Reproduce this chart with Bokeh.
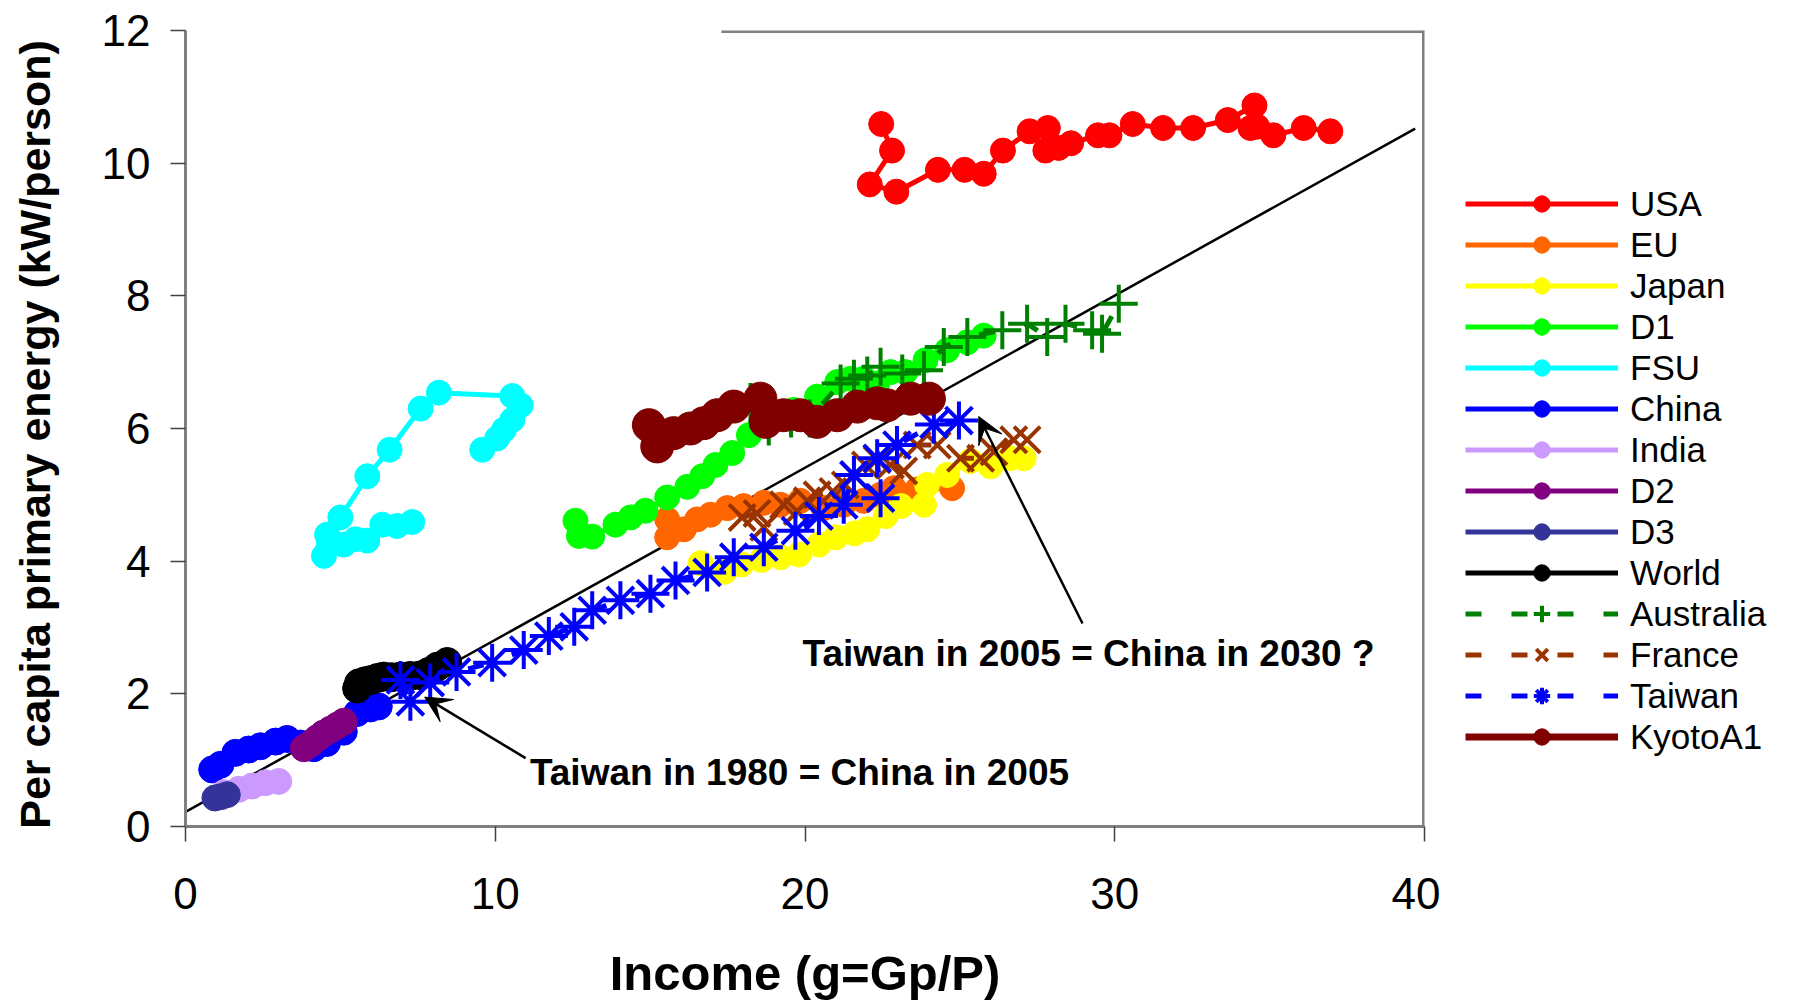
from bokeh.plotting import figure
from bokeh.layouts import row
from bokeh.models import Range1d, Legend, LegendItem, Label, Arrow, VeeHead, FixedTicker
from bokeh.embed import file_html
from bokeh.resources import INLINE

nan = float("nan")

# ---- data: income (g = Gp/P) vs per-capita primary energy (kW/person) ----
usa_x = [22.46, 22.81, 22.09, 22.95, 24.29, 25.15, 25.77, 26.39, 27.25, 27.84, 27.76, 28.19, 28.59,
         29.46, 29.83, 30.58, 31.56, 32.53, 33.65, 34.51, 34.38, 34.60, 35.12, 36.10, 36.96]
usa_y = [10.59, 10.19, 9.68, 9.57, 9.90, 9.90, 9.84, 10.19, 10.48, 10.53, 10.19, 10.23, 10.30,
         10.42, 10.42, 10.59, 10.53, 10.53, 10.65, 10.87, 10.53, 10.55, 10.42, 10.53, 10.48]

eu_x = [15.55, 15.55, 16.09, 16.52, 16.95, 17.49, 18.02, 18.67, 19.21, 19.85, 20.60, 21.25, 21.90,
        22.44, 22.87, 23.62, 24.75]
eu_y = [4.63, 4.36, 4.48, 4.63, 4.70, 4.80, 4.83, 4.88, 4.85, 4.91, 4.80, 4.85, 4.91,
        5.00, 5.10, 5.08, 5.10]

japan_x = [16.63, 17.40, 17.95, 18.60, 19.21, 19.80, 20.45, 21.00, 21.60, 22.01, 22.60, 23.10,
           23.84, 23.94, 24.59, 25.34, 25.99, 26.60, 27.06]
japan_y = [3.97, 3.84, 3.95, 4.02, 4.06, 4.10, 4.25, 4.36, 4.42, 4.48, 4.68, 4.83,
           4.85, 5.15, 5.30, 5.51, 5.43, 5.55, 5.55]

d1_x = [12.59, 12.70, 13.13, 13.88, 14.37, 14.85, 15.55, 16.20, 16.68, 17.11, 17.65, 18.19, 18.56,
        19.10, 19.64, 20.39, 21.04, 21.47, 21.90, 22.33, 22.76, 23.24, 23.89, 24.59, 25.24, 25.77]
d1_y = [4.61, 4.38, 4.37, 4.55, 4.66, 4.76, 4.96, 5.12, 5.28, 5.45, 5.63, 5.90, 6.05,
        6.20, 6.28, 6.48, 6.70, 6.75, 6.75, 6.68, 6.85, 6.85, 7.03, 7.18, 7.30, 7.40]

fsu_x = [4.57, 5.00, 5.87, 6.59, 7.59, 8.18, 10.55, 10.82, 10.55, 10.28, 10.06, 9.58, nan,
         4.47, 4.63, 5.11, 5.49, 5.87, 6.35, 6.83, 7.32]
fsu_y = [4.40, 4.66, 5.28, 5.68, 6.30, 6.54, 6.49, 6.35, 6.13, 5.98, 5.85, 5.68, nan,
         4.08, 4.25, 4.25, 4.33, 4.31, 4.55, 4.53, 4.59]

china_x = [0.86, 1.13, 1.61, 2.04, 2.42, 2.91, 3.28, 3.71, 4.14, 4.57, 5.11, 5.54, 5.97, 6.24]
china_y = [0.86, 0.93, 1.11, 1.16, 1.21, 1.28, 1.32, 1.25, 1.18, 1.26, 1.43, 1.71, 1.78, 1.81]

india_x = [1.24, 1.72, 2.15, 2.58, 3.01]
india_y = [0.51, 0.56, 0.61, 0.66, 0.68]

d2_x = [3.82, 4.05, 4.25, 4.45, 4.68, 4.90, 5.11]
d2_y = [1.18, 1.25, 1.33, 1.40, 1.46, 1.52, 1.58]

d3_x = [0.95, 1.15, 1.35]
d3_y = [0.43, 0.45, 0.48]

world_x = [5.54, 5.60, 5.80, 6.00, 6.20, 6.40, 6.65, 6.94, 7.25, 7.59, 7.85, 8.13, 8.45]
world_y = [2.08, 2.16, 2.19, 2.21, 2.24, 2.26, 2.25, 2.26, 2.27, 2.28, 2.33, 2.41, 2.48]

aus_x = [18.24, 18.83, 19.55, 20.15, 21.15, 21.58, 22.01, 22.44, 23.14, 23.84, 24.48, 25.24, 26.37,
         27.17, 27.82, 28.41, 29.27, 29.59, 30.13]
aus_y = [6.40, 6.03, 6.15, 6.15, 6.68, 6.75, 6.80, 6.93, 6.83, 6.88, 7.23, 7.38, 7.48,
         7.58, 7.38, 7.58, 7.48, 7.43, 7.88]

france_x = [17.97, 18.45, 18.67, 19.31, 19.75, 20.07, 20.39, 20.90, 21.30, 21.58, 21.95, 22.33,
            22.76, 23.19, 23.62, 24.27, 25.02, 25.67, 26.10, 26.74, 27.17]
france_y = [4.66, 4.72, 4.51, 4.85, 4.75, 4.91, 5.00, 5.05, 5.15, 5.30, 5.45, 5.53,
            5.45, 5.36, 5.75, 5.75, 5.55, 5.55, 5.65, 5.83, 5.83]

taiwan_x = [6.94, 7.26, 7.90, 8.75, 9.90, 10.92, 11.73, 12.55, 13.13, 14.04, 15.01, 15.82, 16.84,
            17.70, 18.67, 19.69, 20.45, 21.25, 21.58, 22.44, 22.33, 22.97, 24.16, 24.97]
taiwan_y = [2.21, 1.88, 2.17, 2.33, 2.47, 2.66, 2.87, 3.01, 3.26, 3.41, 3.51, 3.71, 3.83,
            4.06, 4.21, 4.46, 4.68, 4.85, 5.30, 4.95, 5.55, 5.75, 6.06, 6.12]

kyoto_x = [14.96, 15.23, 15.76, 16.30, 16.73, 17.17, 17.70, 18.56, 18.73, 19.31, 19.85, 20.39,
           21.04, 21.69, 22.33, 22.65, 23.41, 24.00]
kyoto_y = [6.05, 5.73, 5.93, 6.00, 6.08, 6.20, 6.33, 6.45, 6.10, 6.20, 6.20, 6.10,
           6.20, 6.33, 6.38, 6.35, 6.45, 6.45]

# linear fit drawn across the chart
trend_x = [0.0, 39.7]
trend_y = [0.22, 10.52]

x_ticks = [0, 10, 20, 30, 40]
y_ticks = [0, 2, 4, 6, 8, 10, 12]
X_MAX, Y_MAX = 40, 12
TOP_EDGE_FROM = 17.3

x_title = "Income (g=Gp/P)"
y_title = "Per capita primary energy  (kW/person)"
note_2030 = "Taiwan in 2005 = China in 2030 ?"
note_2005 = "Taiwan in 1980 = China in 2005"
note_2030_pos = (19.92, 2.61)
note_2005_pos = (11.12, 0.81)
arrow_2030 = (28.96, 3.06, 25.61, 6.18)
arrow_2005 = (10.98, 1.03, 7.72, 1.95)

FONT = "'Liberation Sans', Arial, sans-serif"

series = [
    ("USA", usa_x, usa_y, "#FF0000", "circle", 25, "solid"),
    ("EU", eu_x, eu_y, "#FF6600", "circle", 25, "solid"),
    ("Japan", japan_x, japan_y, "#FFFF00", "circle", 25, "solid"),
    ("D1", d1_x, d1_y, "#00FF00", "circle", 25, "solid"),
    ("FSU", fsu_x, fsu_y, "#00FFFF", "circle", 25, "solid"),
    ("China", china_x, china_y, "#0000FF", "circle", 27, "solid"),
    ("India", india_x, india_y, "#CC99FF", "circle", 26, "solid"),
    ("D2", d2_x, d2_y, "#800080", "circle", 27, "solid"),
    ("D3", d3_x, d3_y, "#333399", "circle", 26, "solid"),
    ("World", world_x, world_y, "#000000", "circle", 29, "solid"),
    ("Australia", aus_x, aus_y, "#008000", "cross", 38, "16 30"),
    ("France", france_x, france_y, "#993300", "x", 37, "16 30"),
    ("Taiwan", taiwan_x, taiwan_y, "#0000FF", "asterisk", 38, "16 30"),
    ("KyotoA1", kyoto_x, kyoto_y, "#800000", "circle", 33, "solid"),
]

# ---- main chart ----
p = figure(width=1440, height=1002, output_backend="svg", toolbar_location=None,
           x_range=Range1d(0, X_MAX), y_range=Range1d(0, Y_MAX),
           min_border_left=185, min_border_right=16, min_border_top=30, min_border_bottom=171)
p.background_fill_color = "white"
p.border_fill_color = "white"
p.outline_line_color = None
p.grid.visible = False

# frame edges on the right and top
p.segment(x0=[X_MAX, TOP_EDGE_FROM], y0=[0, Y_MAX], x1=[X_MAX, X_MAX], y1=[Y_MAX, Y_MAX],
          line_color="#808080", line_width=5)

p.line(trend_x, trend_y, line_color="black", line_width=2.5)


def draw_series(fig, xs, ys, name, color, marker, size, dash):
    lw = 7 if name == "KyotoA1" else 5
    r_line = fig.line(xs, ys, line_color=color, line_width=lw, line_dash=dash)
    if marker == "circle":
        r_pts = fig.scatter(xs, ys, marker="circle", size=size, fill_color=color,
                            line_color=color, line_width=1)
    else:
        r_pts = fig.scatter(xs, ys, marker=marker, size=size, line_color=color,
                            line_width=4, fill_color=None)
    return r_line, r_pts


for name, xs, ys, color, marker, size, dash in series:
    draw_series(p, xs, ys, name, color, marker, size, dash)

for (x0, y0, x1, y1) in (arrow_2030, arrow_2005):
    p.add_layout(Arrow(x_start=x0, y_start=y0, x_end=x1, y_end=y1, line_color="black", line_width=2.5,
                       end=VeeHead(size=26, fill_color="black", line_color="black", line_width=1)))

for text, (tx, ty) in ((note_2030, note_2030_pos), (note_2005, note_2005_pos)):
    p.add_layout(Label(x=tx, y=ty, text=text, text_font=FONT, text_font_style="bold",
                       text_font_size="37px", text_baseline="middle", text_color="black"))

# axes
for ax in (p.xaxis[0], p.yaxis[0]):
    ax.axis_line_color = "#808080"
    ax.axis_line_width = 3
    ax.major_tick_line_color = "#404040"
    ax.major_tick_line_width = 1.5
    ax.major_tick_in = 0
    ax.major_tick_out = 15
    ax.minor_tick_line_color = None
    ax.major_label_text_font = FONT
    ax.major_label_text_font_size = "44px"
    ax.major_label_text_color = "black"
    ax.axis_label_text_font = FONT
    ax.axis_label_text_font_style = "bold"
    ax.axis_label_text_color = "black"
p.xaxis.ticker = FixedTicker(ticks=x_ticks)
p.yaxis.ticker = FixedTicker(ticks=y_ticks)
p.xaxis.major_label_standoff = 36
p.yaxis.major_label_standoff = 20
p.xaxis.axis_label = x_title
p.xaxis.axis_label_text_font_size = "49px"
p.xaxis.axis_label_standoff = 34
p.yaxis.axis_label = y_title
p.yaxis.axis_label_text_font_size = "43px"
p.yaxis.axis_label_standoff = 40

# ---- legend panel to the right of the chart ----
# the same series are attached here with a view range that keeps them off-screen,
# so this panel shows only the legend
lg = figure(width=369, height=1002, output_backend="svg", toolbar_location=None,
            x_range=Range1d(-3, -2), y_range=Range1d(-3, -2), x_axis_type=None, y_axis_type=None,
            min_border_left=0, min_border_right=0, min_border_top=30, min_border_bottom=171)
lg.outline_line_color = None
lg.grid.visible = False
lg.background_fill_color = "white"
lg.border_fill_color = "white"

items = []
for name, xs, ys, color, marker, size, dash in series:
    r_line, r_pts = draw_series(lg, xs, ys, name, color, marker, size, dash)
    items.append(LegendItem(label=name, renderers=[r_line, r_pts]))

legend = Legend(items=items, location=(25, 69), orientation="vertical",
                glyph_width=153, glyph_height=41, label_height=41, label_standoff=12,
                spacing=0, padding=0, margin=0, border_line_color=None, background_fill_alpha=0,
                label_text_font=FONT, label_text_font_size="35px", label_text_color="black")
lg.add_layout(legend)

open("out.html", "w").write(file_html(row(p, lg), INLINE))
